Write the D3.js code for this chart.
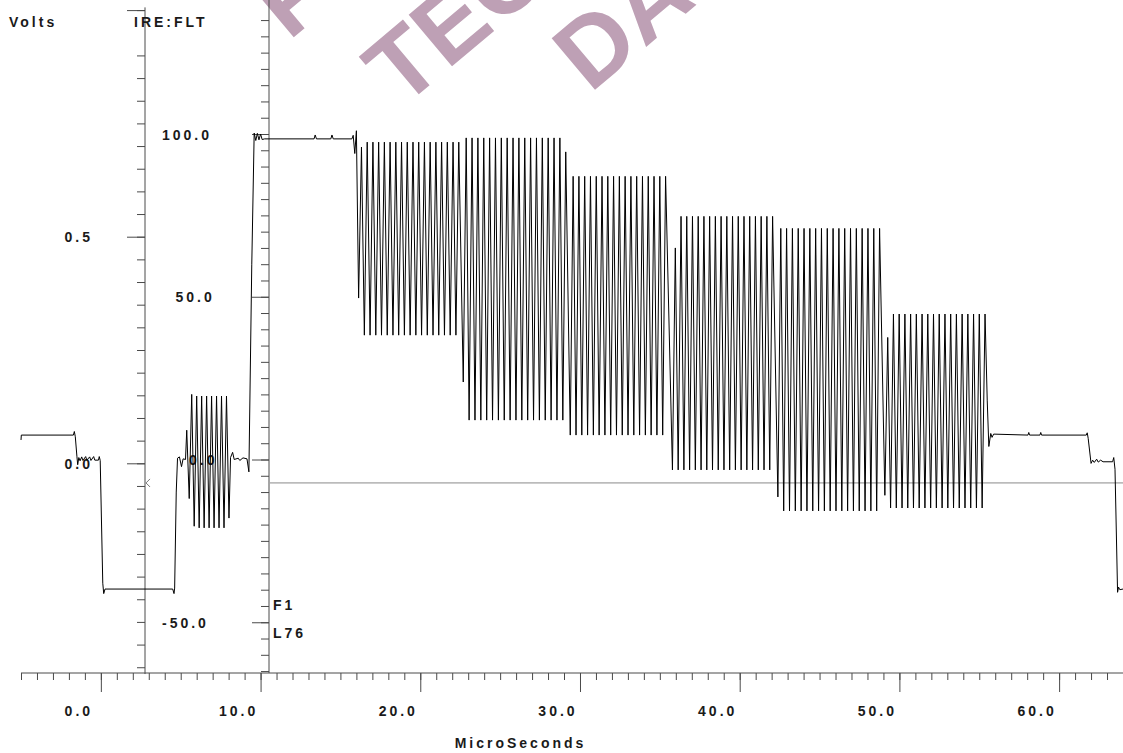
<!DOCTYPE html>
<html><head><meta charset="utf-8">
<script src="https://cdn.jsdelivr.net/npm/d3@7"></script>
<style>
html,body{margin:0;padding:0;background:#fff;}
svg{display:block;}
text{font-family:"Liberation Sans",Arial,sans-serif;font-weight:bold;fill:#1a1a1a;}
</style></head><body>
<svg id="c" width="1123" height="753"></svg>
<script>
// ---------- axes data ----------
const timeExtent = [-5, 64];                       // microseconds
const timeMajor = [0, 10, 20, 30, 40, 50, 60];
const timeLabels = ["0.0", "10.0", "20.0", "30.0", "40.0", "50.0", "60.0"];
const ireMajor = [-50, 0, 50, 100];
const ireLabels = ["-50.0", "0.0", "50.0", "100.0"];
const ireExtent = [-65.6, 141.2];
const voltMajor = [0, 0.5, 1.0];
const voltLabels = ["0.0", "0.5"];
const voltExtent = [-0.465, 1.006];
const refLevelIre = -7.2;                          // cursor line
const infoLabels = ["F1", "L76"];
const watermark = ["PRELIMINARY", "TECHNICAL", "DATA"];

// ---------- waveform data (µs, IRE) ----------
const leadTrace = [
  [-5.0, 6.0], [-4.98, 7.5], [-1.72, 7.5], [-1.66, 8.6], [-1.6, 7.0], [-1.5, 1.0], [-1.45, -1.6],
  [-1.38, 0.6], [-1.3, -0.4], [-1.2, 0.8], [-1.12, -0.3], [-0.95, 0.9], [-0.88, -0.2], [-0.7, 0.8],
  [-0.62, -0.3], [-0.45, 0.9], [-0.38, -0.2], [-0.15, -0.2], [-0.1, 0.9], [-0.04, -0.3],
  [0.12, -38], [0.18, -41.2], [0.26, -39.8], [4.5, -39.8], [4.58, -41.2], [4.62, -39.5],
  [4.72, -10], [4.8, 0.4], [4.92, 0.8], [5.05, -2.2], [5.15, 0.2], [5.3, 0.0]
];
const burstSpan = [5.3, 8.1];
const burstHigh = [9, 20, 19.5, 19.5, 19.5, 19.5, 19.5, 19.5, 19.5];
const burstLow  = [-12, -20.5, -21, -21, -21, -21, -21, -21, -18];
const flagTrace = [
  [8.12, 0.6], [8.25, 2.2], [8.35, 0.0], [8.6, 0.4], [8.7, -0.3], [8.9, 0.5], [9.15, 0.2],
  [9.27, -3.8], [9.45, 60], [9.6, 100.3], [9.7, 98.0], [9.8, 100.2], [9.9, 98.2], [10.0, 100.0],
  [10.1, 98.3], [10.25, 98.5], [13.35, 98.5], [13.42, 99.7], [13.5, 98.5], [14.4, 98.5],
  [14.47, 99.7], [14.55, 98.5], [15.72, 98.5], [15.8, 99.6], [15.9, 94], [16.0, 101]
];
// multiburst packets: time span plus the level of every peak / trough
const packetSpan = [[16.05, 22.5], [22.6, 29.2], [29.3, 35.45], [35.7, 42.15], [42.3, 48.85], [49.0, 55.45]];
const packet1High = [96, 97.5, 97.5, 97.5, 97.5, 97.5, 97.5, 97.5, 97.5, 97.5, 97.5, 97.5, 97.5, 97.5, 97.5, 97.5, 97.5, 97.5];
const packet1Low  = [49.6, 38.2, 38.2, 38.2, 38.2, 38.2, 38.2, 38.2, 38.2, 38.2, 38.2, 38.2, 38.2, 38.2, 38.2, 38.2, 38.2, 38.2];
const packet2High = [98.8, 98.8, 98.8, 98.8, 98.8, 98.8, 98.8, 98.8, 98.8, 98.8, 98.8, 98.8, 98.8, 98.8, 98.8, 98.8, 98.8, 94.5];
const packet2Low  = [23.8, 12.1, 12.1, 12.1, 12.1, 12.1, 12.1, 12.1, 12.1, 12.1, 12.1, 12.1, 12.1, 12.1, 12.1, 12.1, 12.1, 12.1];
const packet3High = [87, 87, 87, 87, 87, 87, 87, 87, 87, 87, 87, 87, 87, 87, 87, 87, 87];
const packet3Low  = [7.5, 7.5, 7.5, 7.5, 7.5, 7.5, 7.5, 7.5, 7.5, 7.5, 7.5, 7.5, 7.5, 7.5, 7.5, 7.5, 7.5];
const packet4High = [65, 74.7, 74.7, 74.7, 74.7, 74.7, 74.7, 74.7, 74.7, 74.7, 74.7, 74.7, 74.7, 74.7, 74.7, 74.7, 74.7, 74.7];
const packet4Low  = [-3.2, -3.2, -3.2, -3.2, -3.2, -3.2, -3.2, -3.2, -3.2, -3.2, -3.2, -3.2, -3.2, -3.2, -3.2, -3.2, -3.2, -3.2];
const packet5High = [71, 71, 71, 71, 71, 71, 71, 71, 71, 71, 71, 71, 71, 71, 71, 71, 71, 71];
const packet5Low  = [-11.5, -15.8, -15.8, -15.8, -15.8, -15.8, -15.8, -15.8, -15.8, -15.8, -15.8, -15.8, -15.8, -15.8, -15.8, -15.8, -15.8, -15.8];
const packet6High = [37.5, 44.7, 44.7, 44.7, 44.7, 44.7, 44.7, 44.7, 44.7, 44.7, 44.7, 44.7, 44.7, 44.7, 44.7, 44.7, 44.7, 44.7];
const packet6Low  = [-11, -14.9, -14.9, -14.9, -14.9, -14.9, -14.9, -14.9, -14.9, -14.9, -14.9, -14.9, -14.9, -14.9, -14.9, -14.9, -14.9, -14.9];
const tailTrace = [
  [55.5, 18], [55.6, 4.0], [55.72, 8.0], [55.8, 6.8], [55.9, 7.8], [58.05, 7.5], [58.1, 8.3],
  [58.15, 7.5], [58.8, 7.5], [58.85, 8.3], [58.9, 7.5], [61.7, 7.5], [61.76, 8.2], [61.82, 6.5],
  [62.0, -1.2], [62.1, -0.2], [62.2, -0.9], [62.35, 0.1], [62.45, -0.8], [62.6, -0.2], [62.75, -0.7],
  [63.35, -0.7], [63.42, 0.6], [63.5, -3], [63.66, -40.8], [63.72, -39.2], [63.8, -40.0], [64.0, -39.8]
];
const packetHighs = [packet1High, packet2High, packet3High, packet4High, packet5High, packet6High];
const packetLows  = [packet1Low, packet2Low, packet3Low, packet4Low, packet5Low, packet6Low];

// ---------- scales ----------
const x = d3.scaleLinear().domain(timeExtent).range([21, 1123]);
const yIre = d3.scaleLinear().domain([0, 100]).range([459.5, 134]);
const yVolt = d3.scaleLinear().domain([0, 0.5]).range([463.3, 236.7]);

const svg = d3.select("#c");
const axisColor = "#4a4a4a";
const LS = 3; // letter spacing

// ---------- watermark ----------
const wm = svg.append("g").attr("transform", "translate(618,-73) rotate(-40)");
wm.selectAll("text").data(watermark).join("text")
  .attr("x", (d, i) => i === 0 ? 10 : 0)
  .attr("y", (d, i) => i === 0 ? -124 : (i - 1) * 110)
  .attr("text-anchor", "middle")
  .style("font-size", "98px").style("fill", "#bea0b5")
  .text(d => d);

// ---------- volts axis ----------
const voltAxisX = 145;
const voltMinor = d3.range(-9, 21).map(v => v * 0.05).filter(v => Math.abs(v - 0.95) > 1e-6);
const gV = svg.append("g").attr("transform", `translate(${voltAxisX},0)`);
gV.call(d3.axisLeft(yVolt).tickValues(voltMinor).tickSize(8).tickSizeOuter(0).tickFormat(""));
gV.append("g").call(d3.axisLeft(yVolt).tickValues(voltMajor).tickSize(18).tickSizeOuter(0).tickFormat(""));
gV.selectAll(".domain").remove();
gV.selectAll("line").attr("stroke", axisColor);
gV.append("line").attr("x1", 0).attr("x2", 0)
  .attr("y1", yVolt(voltExtent[1])).attr("y2", yVolt(voltExtent[0])).attr("stroke", axisColor);
svg.append("g").selectAll("text").data(voltLabels).join("text")
  .attr("x", 90 + LS).attr("y", (d, i) => yVolt(voltMajor[i]) + 5.5)
  .attr("text-anchor", "end").style("font-size", "14px").style("letter-spacing", LS + "px")
  .text(d => d);
svg.append("path")
  .attr("d", `M${voltAxisX + 5},${yIre(refLevelIre) - 4} L${voltAxisX + 1},${yIre(refLevelIre)} L${voltAxisX + 5},${yIre(refLevelIre) + 4}`)
  .attr("fill", "none").attr("stroke", "#777");

// ---------- IRE axis ----------
const ireAxisX = 269;
const ireMinor = d3.range(-13, 28).map(v => v * 5);
const gI = svg.append("g").attr("transform", `translate(${ireAxisX},0)`);
gI.call(d3.axisLeft(yIre).tickValues(ireMinor).tickSize(8).tickSizeOuter(0).tickFormat(""));
gI.append("g").call(d3.axisLeft(yIre).tickValues(ireMajor).tickSize(17).tickSizeOuter(0).tickFormat(""));
gI.selectAll(".domain").remove();
gI.selectAll("line").attr("stroke", axisColor);
gI.append("line").attr("x1", 0).attr("x2", 0)
  .attr("y1", yIre(ireExtent[1])).attr("y2", yIre(ireExtent[0])).attr("stroke", axisColor);
svg.append("g").selectAll("text").data(ireMajor).join("text")
  .attr("x", (d, i) => 162 + (5 - ireLabels[i].length) * 13.5)
  .attr("y", d => yIre(d) + 5.5)
  .style("font-size", "14px").style("letter-spacing", LS + "px")
  .text((d, i) => ireLabels[i]);

// ---------- time axis ----------
const axisY = 673;
const timeMinor = d3.range(timeExtent[0], timeExtent[1] + 1);
const gX = svg.append("g").attr("transform", `translate(0,${axisY})`);
gX.call(d3.axisBottom(x).tickValues(timeMinor).tickSize(7).tickSizeOuter(0).tickFormat(""));
gX.append("g").call(d3.axisBottom(x).tickValues(timeMajor).tickSize(19).tickSizeOuter(0).tickFormat(""));
gX.selectAll(".domain").remove();
gX.selectAll("line").attr("stroke", axisColor);
gX.append("line").attr("x1", x(timeExtent[0])).attr("x2", x(timeExtent[1]))
  .attr("y1", 0).attr("y2", 0).attr("stroke", axisColor);
svg.append("g").selectAll("text").data(timeMajor).join("text")
  .attr("x", d => x(d) - 23.5 + LS / 2).attr("y", 716)
  .attr("text-anchor", "middle").style("font-size", "14px").style("letter-spacing", LS + "px")
  .text((d, i) => timeLabels[i]);
svg.append("text").attr("x", 519 + LS / 2).attr("y", 748).attr("text-anchor", "middle")
  .style("font-size", "14px").style("letter-spacing", LS + "px").text("MicroSeconds");

// titles
svg.append("text").attr("x", 9).attr("y", 27).style("font-size", "14px").style("letter-spacing", LS + "px").text("Volts");
svg.append("text").attr("x", 134).attr("y", 27).style("font-size", "14px").style("letter-spacing", LS + "px").text("IRE:FLT");
svg.append("g").selectAll("text").data(infoLabels).join("text")
  .attr("x", 273).attr("y", (d, i) => 610 + i * 28)
  .style("font-size", "14px").style("letter-spacing", LS + "px").text(d => d);

// ---------- reference line ----------
svg.append("line").attr("x1", ireAxisX + 1).attr("x2", x(timeExtent[1]))
  .attr("y1", yIre(refLevelIre)).attr("y2", yIre(refLevelIre)).attr("stroke", "#8a8a8a");

// ---------- waveform ----------
// place the read peak / trough levels evenly across each packet's span
function oscillate(t0, t1, hi, lo, downFirst) {
  const n = hi.length, P = (t1 - t0) / n, pts = [];
  for (let k = 0; k < n; k++) {
    const a = downFirst ? lo[k] : hi[k], b = downFirst ? hi[k] : lo[k];
    pts.push([t0 + P * (k + 0.25), a], [t0 + P * (k + 0.75), b]);
  }
  return pts;
}
let trace = [...leadTrace];
trace = trace.concat(oscillate(burstSpan[0], burstSpan[1], burstHigh, burstLow, false));
trace = trace.concat(flagTrace);
packetSpan.forEach((span, i) => {
  trace = trace.concat(oscillate(span[0], span[1], packetHighs[i], packetLows[i], true));
});
trace = trace.concat(tailTrace);

const line = d3.line().x(d => x(d[0])).y(d => yIre(d[1]));
svg.append("path").datum(trace).attr("d", line)
  .attr("fill", "none").attr("stroke", "#000").attr("stroke-width", 1);
</script>
</body></html>
